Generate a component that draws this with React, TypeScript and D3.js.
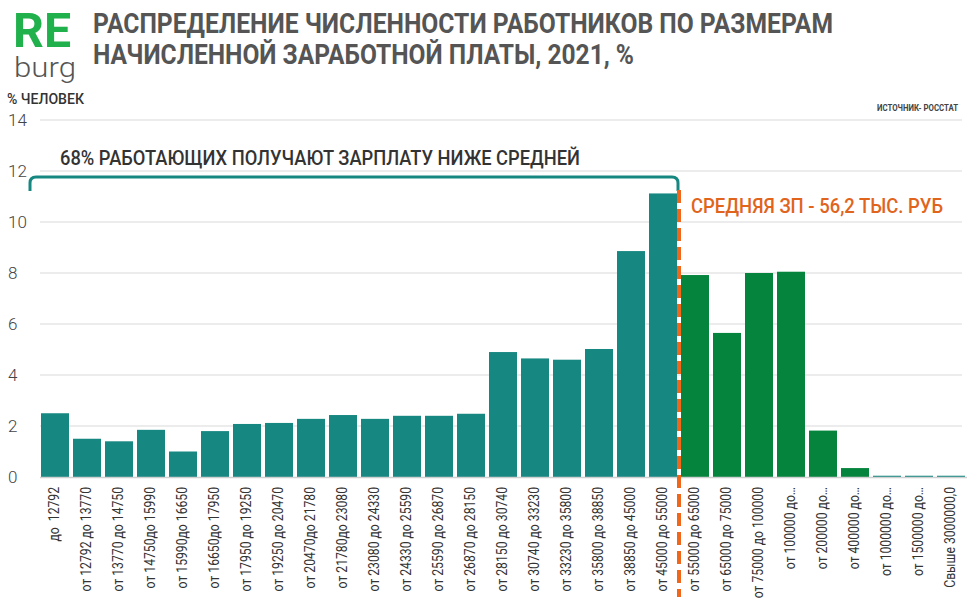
import React from "react";
import * as d3 from "d3";

const categories = [
  "до  12792",
  "от 12792 до 13770",
  "от 13770 до 14750",
  "от 14750до 15990",
  "от 15990до 16650",
  "от 16650до 17950",
  "от 17950 до 19250",
  "от 19250 до 20470",
  "от 20470до 21780",
  "от 21780до 23080",
  "от 23080 до 24330",
  "от 24330 до 25590",
  "от 25590 до 26870",
  "от 26870 до 28150",
  "от 28150 до 30740",
  "от 30740 до 33230",
  "от 33230 до 35800",
  "от 35800 до 38850",
  "от 38850 до 45000",
  "от 45000 до 55000",
  "от 55000 до 65000",
  "от 65000 до 75000",
  "от 75000 до 100000",
  "от 100000 до…",
  "от 200000 до…",
  "от 400000 до…",
  "от 1000000 до…",
  "от 1500000 до…",
  "Свыше 3000000,0",
];

const values = [
  2.5, 1.5, 1.4, 1.85, 1.0, 1.8, 2.08, 2.12, 2.28, 2.43, 2.28, 2.4, 2.4, 2.48,
  4.9, 4.65, 4.6, 5.02, 8.86, 11.12, 7.92, 5.65, 8.0, 8.05, 1.82, 0.35, 0.05,
  0.05, 0.05,
];

// group: 0 = below average (teal), 1 = above average (green)
const groups = [
  0, 0, 0, 0, 0, 0, 0, 0, 0, 0, 0, 0, 0, 0, 0, 0, 0, 0, 0, 0, 1, 1, 1, 1, 1, 1,
  0, 0, 0,
];

const yTicks = [0, 2, 4, 6, 8, 10, 12, 14];

const titleLines = [
  "РАСПРЕДЕЛЕНИЕ ЧИСЛЕННОСТИ РАБОТНИКОВ ПО РАЗМЕРАМ",
  "НАЧИСЛЕННОЙ ЗАРАБОТНОЙ ПЛАТЫ, 2021, %",
];

const TEAL = "#178781";
const GREEN = "#05843E";
const ORANGE = "#F0661A";

export default function App() {
  const W = 973;
  const H = 616;
  const x = d3
    .scaleBand<string>()
    .domain(categories)
    .range([39, 967])
    .paddingInner(0.125)
    .paddingOuter(0.0625);
  const y = d3.scaleLinear().domain([0, 14]).range([477, 120]);
  const font = "Roboto, 'DejaVu Sans', sans-serif";

  const bracketLeft = 30;
  const bracketRight = (x(categories[19]) as number) + x.bandwidth() + 1;
  const bracketTop = 177;
  const bracketBottom = 191;
  const r = 6;
  const bracketPath = `M${bracketLeft},${bracketBottom} L${bracketLeft},${bracketTop + r} Q${bracketLeft},${bracketTop} ${bracketLeft + r},${bracketTop} L${bracketRight - r},${bracketTop} Q${bracketRight},${bracketTop} ${bracketRight},${bracketTop + r} L${bracketRight},${bracketBottom}`;

  const meanX = (x(categories[20]) as number) - 2;

  return (
    <svg
      width={W}
      height={H}
      style={{ position: "absolute", left: 0, top: 0, background: "#fff" }}
      fontFamily={font}
    >
      {/* logo */}
      <text x={13} y={47} fontSize={49} fontWeight={700} fill="#21B14C" textLength={58} lengthAdjust="spacingAndGlyphs">RE</text>
      <text x={14} y={77} fontSize={27} fontWeight={300} fill="#555" textLength={62} lengthAdjust="spacingAndGlyphs">burg</text>

      {/* title */}
      {titleLines.map((t, i) => (
        <text
          key={i}
          x={93}
          y={33 + i * 31}
          fontSize={27}
          fontWeight={700}
          fill="#555"
          textLength={i === 0 ? 740 : 541}
          lengthAdjust="spacingAndGlyphs"
        >
          {t}
        </text>
      ))}

      <text x={7} y={104} fontSize={14.5} fontWeight={500} fill="#333" textLength={77} lengthAdjust="spacingAndGlyphs">% ЧЕЛОВЕК</text>
      <text x={958} y={111} fontSize={9} fontWeight={700} fill="#444" textAnchor="end" textLength={81} lengthAdjust="spacingAndGlyphs">ИСТОЧНИК- РОССТАТ</text>

      {/* gridlines */}
      {yTicks.map((t) => (
        <g key={t}>
          {t > 0 && (
            <line x1={40} x2={962} y1={y(t)} y2={y(t)} stroke="#d9d9d9" strokeWidth={1} />
          )}
          <text x={8} y={y(t) + 6} fontSize={17} fontWeight={300} fill="#444">
            {t}
          </text>
        </g>
      ))}

      {/* bars */}
      {values.map((v, i) => (
        <rect
          key={i}
          x={x(categories[i])}
          y={y(v)}
          width={x.bandwidth()}
          height={Math.max(0, y(0) - y(v))}
          fill={groups[i] === 0 ? TEAL : GREEN}
        />
      ))}

      {/* baseline */}
      <line x1={40} x2={967} y1={y(0) + 0.5} y2={y(0) + 0.5} stroke="#d0d0d0" strokeWidth={1.5} />

      {/* x labels */}
      {categories.map((c, i) => {
        const cx = (x(c) as number) + x.bandwidth() / 2 + 4;
        return (
          <text
            key={c}
            transform={`translate(${cx},487) rotate(-90) scale(0.87,1)`}
            textAnchor="end"
            fontSize={14}
            fontWeight={400}
            fill="#333"
            style={{ whiteSpace: "pre" }}
          >
            {c}
          </text>
        );
      })}

      {/* bracket annotation */}
      <path d={bracketPath} fill="none" stroke={TEAL} strokeWidth={3} />
      <text x={60} y={165} fontSize={20} fontWeight={500} fill="#333" textLength={520} lengthAdjust="spacingAndGlyphs">
        68% РАБОТАЮЩИХ ПОЛУЧАЮТ ЗАРПЛАТУ НИЖЕ СРЕДНЕЙ
      </text>

      {/* mean line */}
      <line x1={meanX} x2={meanX} y1={190} y2={597} stroke={ORANGE} strokeWidth={4} strokeDasharray="13,6" />
      <text x={691} y={213} fontSize={21} fontWeight={500} fill="#E0641C" textLength={252} lengthAdjust="spacingAndGlyphs">
        СРЕДНЯЯ ЗП - 56,2 ТЫС. РУБ
      </text>
    </svg>
  );
}
